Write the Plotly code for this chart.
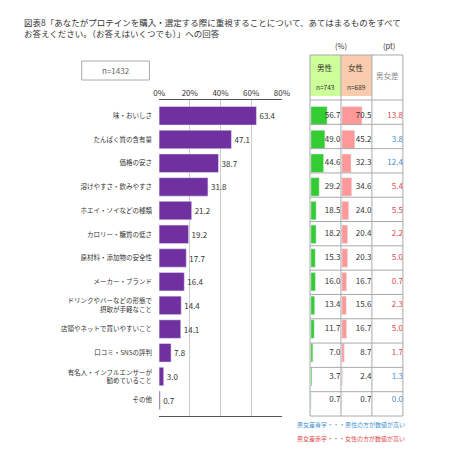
import plotly.graph_objects as go

categories = ["味・おいしさ", "たんぱく質の含有量", "価格の安さ", "溶けやすさ・飲みやすさ",
              "ホエイ・ソイなどの種類", "カロリー・糖質の低さ", "原材料・添加物の安全性",
              "メーカー・ブランド", "ドリンクやバーなどの形態で<br>摂取が手軽なこと",
              "店頭やネットで買いやすいこと", "口コミ・SNSの評判",
              "有名人・インフルエンサーが<br>勧めていること", "その他"]
total = [63.4, 47.1, 38.7, 31.8, 21.2, 19.2, 17.7, 16.4, 14.4, 14.1, 7.8, 3.0, 0.7]
male = [56.7, 49.0, 44.6, 29.2, 18.5, 18.2, 15.3, 16.0, 13.4, 11.7, 7.0, 3.7, 0.7]
female = [70.5, 45.2, 32.3, 34.6, 24.0, 20.4, 20.3, 16.7, 15.6, 16.7, 8.7, 2.4, 0.7]
diff = [13.8, 3.8, 12.4, 5.4, 5.5, 2.2, 5.0, 0.7, 2.3, 5.0, 1.7, 1.3, 0.0]
diff_higher = ["f", "m", "m", "f", "f", "f", "f", "f", "f", "f", "f", "m", "m"]

W, H = 459, 450
px_x = lambda p: p / W
px_y = lambda p: 1 - p / H
FONT = "Noto Sans CJK JP"
y_top, y_bot = 92, 408

fig = go.Figure()
fig.add_bar(y=categories, x=total, orientation="h", marker_color="#7030a0", width=0.78,
            text=[f"{v:.1f}" for v in total], textposition="outside",
            textfont=dict(size=8, color="#333"), cliponaxis=False, xaxis="x", yaxis="y")
fig.add_bar(y=categories, x=male, orientation="h", marker_color="#33cc33", width=0.78,
            xaxis="x2", yaxis="y")
fig.add_scatter(y=categories, x=[103] * len(male), mode="text", text=[f"{v:.1f}" for v in male],
                textposition="middle left", textfont=dict(size=8, color="#333"),
                xaxis="x2", yaxis="y", cliponaxis=False)
fig.add_bar(y=categories, x=female, orientation="h", marker_color="#ff9999", width=0.78,
            xaxis="x3", yaxis="y")
fig.add_scatter(y=categories, x=[103] * len(female), mode="text", text=[f"{v:.1f}" for v in female],
                textposition="middle left", textfont=dict(size=8, color="#333"),
                xaxis="x3", yaxis="y", cliponaxis=False)
fig.add_scatter(y=categories, x=[100] * len(diff), mode="text", text=[f"{v:.1f}" for v in diff],
                textposition="middle left",
                textfont=dict(size=8, color=["#e0474c" if d == "f" else "#3d8fd0" for d in diff_higher]),
                xaxis="x4", yaxis="y", cliponaxis=False)

hidden = dict(visible=False, fixedrange=True)
fig.update_layout(
    width=W, height=H, margin=dict(l=0, r=0, t=0, b=0), showlegend=False,
    plot_bgcolor="white", paper_bgcolor="white", bargap=0.2,
    font=dict(family=FONT, color="#333"),
    xaxis=dict(domain=[px_x(150), px_x(277)], range=[0, 80], side="top", dtick=20,
               ticksuffix="%", showgrid=True, gridcolor="#cccccc", showline=True,
               linecolor="#555", mirror=True, tickfont=dict(size=8), zeroline=False),
    xaxis2=dict(domain=[px_x(306), px_x(338)], range=[-3, 105], anchor="y", **hidden),
    xaxis3=dict(domain=[px_x(338), px_x(370)], range=[-3, 105], anchor="y", **hidden),
    xaxis4=dict(domain=[px_x(370), px_x(402)], range=[0, 100], anchor="y", **hidden),
    yaxis=dict(domain=[px_y(y_bot), px_y(y_top)], autorange="reversed",
               tickfont=dict(size=6.5, color="#333"), ticks="", ticklabelstandoff=6),
)

shapes = []
# table header fills
shapes.append(dict(type="rect", xref="paper", yref="paper", x0=px_x(306), x1=px_x(338),
                   y0=px_y(88), y1=px_y(47), fillcolor="#ccff99", line_width=0, layer="below"))
shapes.append(dict(type="rect", xref="paper", yref="paper", x0=px_x(338), x1=px_x(370),
                   y0=px_y(88), y1=px_y(47), fillcolor="#f8cbad", line_width=0, layer="below"))
line = dict(color="#aaaaaa", width=1)
for xv in [306, 338, 370, 402]:
    shapes.append(dict(type="line", xref="paper", yref="paper", x0=px_x(xv), x1=px_x(xv),
                       y0=px_y(y_bot), y1=px_y(47), line=line))
n = len(categories)
row_edges = [47] + [y_top + (y_bot - y_top) * i / n for i in range(n + 1)]
for yv in row_edges:
    shapes.append(dict(type="line", xref="paper", yref="paper", x0=px_x(306), x1=px_x(402),
                       y0=px_y(yv), y1=px_y(yv), line=line))
shapes.append(dict(type="rect", xref="paper", yref="paper", x0=px_x(70), x1=px_x(140),
                   y0=px_y(72), y1=px_y(53), line=dict(color="#aaaaaa", width=1)))
fig.update_layout(shapes=shapes)

ann = [
    dict(x=px_x(8), y=px_y(6), text="図表8「あなたがプロテインを購入・選定する際に重視することについて、あてはまるものをすべて<br>お答えください。（お答えはいくつでも）」への回答",
         xanchor="left", yanchor="top", align="left", font=dict(size=8.5, color="#333")),
    dict(x=px_x(105), y=px_y(62.5), text="n=1432", font=dict(size=8, color="#666")),
    dict(x=px_x(338), y=px_y(45), text="(%)", yanchor="bottom", font=dict(size=7.5)),
    dict(x=px_x(388), y=px_y(45), text="(pt)", yanchor="bottom", font=dict(size=7.5)),
    dict(x=px_x(322), y=px_y(59), text="男性", font=dict(size=7.5)),
    dict(x=px_x(322), y=px_y(79), text="n=743", font=dict(size=6.5)),
    dict(x=px_x(354), y=px_y(59), text="女性", font=dict(size=7.5)),
    dict(x=px_x(354), y=px_y(79), text="n=689", font=dict(size=6.5)),
    dict(x=px_x(386), y=px_y(68), text="男女差", font=dict(size=7.5, color="#888")),
    dict(x=px_x(290), y=px_y(416), text="男女差青字・・・男性の方が数値が高い", xanchor="left",
         font=dict(size=6, color="#3d8fd0")),
    dict(x=px_x(290), y=px_y(430), text="男女差赤字・・・女性の方が数値が高い", xanchor="left",
         font=dict(size=6, color="#e0474c")),
]
for a in ann:
    a.update(xref="paper", yref="paper", showarrow=False)
    a.setdefault("yanchor", "middle")
    a.setdefault("xanchor", "center")
fig.update_layout(annotations=ann)

fig.write_html("out.html")
